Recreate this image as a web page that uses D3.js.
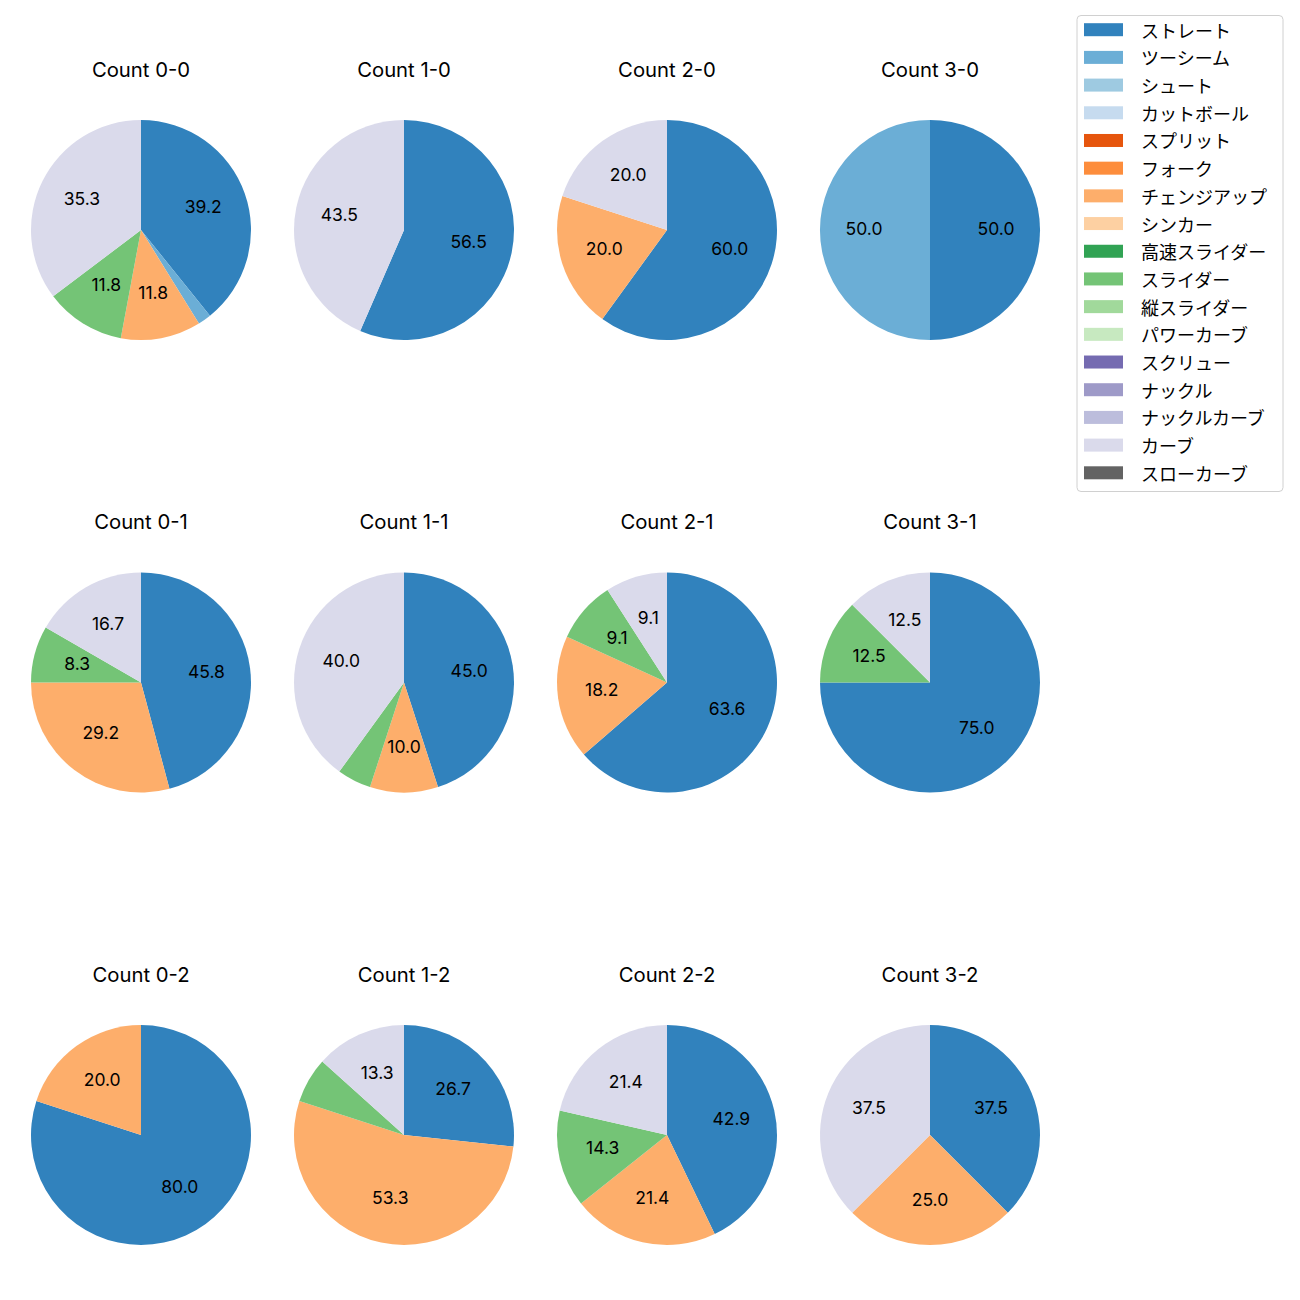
<!DOCTYPE html>
<html><head><meta charset="utf-8">
<script src="https://cdn.jsdelivr.net/npm/d3@7"></script>
<style>body{margin:0;background:#fff}svg{display:block}text{font-family:"Noto Sans CJK JP","Noto Sans",sans-serif}text.lat{font-family:Inter,"Noto Sans CJK JP",sans-serif}</style>
</head><body><svg id="c" width="1300" height="1300"></svg>
<script>
const pitchTypes = ["ストレート","ツーシーム","シュート","カットボール","スプリット","フォーク","チェンジアップ","シンカー","高速スライダー","スライダー","縦スライダー","パワーカーブ","スクリュー","ナックル","ナックルカーブ","カーブ","スローカーブ"];
const pitchColors = ["#3182bd","#6baed6","#9ecae1","#c6dbef","#e6550d","#fd8d3c","#fdae6b","#fdd0a2","#31a354","#74c476","#a1d99b","#c7e9c0","#756bb1","#9e9ac8","#bcbddc","#dadaeb","#636363"];
const countTitles = ["Count 0-0","Count 1-0","Count 2-0","Count 3-0","Count 0-1","Count 1-1","Count 2-1","Count 3-1","Count 0-2","Count 1-2","Count 2-2","Count 3-2"];
// pitch counts per panel for: ストレート, ツーシーム, チェンジアップ, スライダー, カーブ
const usedTypes = ["ストレート","ツーシーム","チェンジアップ","スライダー","カーブ"];
const panelCounts = [
  [20,1,6,6,18],
  [13,0,0,0,10],
  [3,0,1,0,1],
  [1,1,0,0,0],
  [11,0,7,2,4],
  [9,0,2,1,8],
  [7,0,2,1,1],
  [6,0,0,1,1],
  [4,0,1,0,0],
  [4,0,8,1,2],
  [6,0,3,2,3],
  [3,0,2,0,3]
];

const svg = d3.select("#c");
const color = d3.scaleOrdinal().domain(pitchTypes).range(pitchColors);
const colX = d3.scalePoint().domain([0,1,2,3]).range([141,930]);
const rowY = d3.scalePoint().domain([0,1,2]).range([230,1135]);
const R = 110;
const pie = d3.pie().sort(null).value(d=>d.v).startAngle(0).endAngle(2*Math.PI);
const arc = d3.arc().innerRadius(0).outerRadius(R);
const labelArc = d3.arc().innerRadius(R*0.6).outerRadius(R*0.6);

panelCounts.forEach((counts,i)=>{
  const cx = colX(i%4), cy = rowY(Math.floor(i/4));
  const g = svg.append("g").attr("transform",`translate(${cx},${cy})`);
  const data = usedTypes.map((t,j)=>({t, v:counts[j]})).filter(d=>d.v>0);
  const total = d3.sum(data,d=>d.v);
  const arcs = pie(data);
  g.selectAll("path").data(arcs).join("path").attr("d",arc).attr("fill",d=>color(d.data.t));
  g.selectAll("text.lbl").data(arcs.filter(d=>d.data.v/total*100>7.5)).join("text")
    .attr("class","lbl lat")
    .attr("transform",d=>{const c=labelArc.centroid(d);return `translate(${c[0]},${c[1]+4.6})`;})
    .attr("text-anchor","middle")
    .attr("font-size",17.5).attr("fill","#000")
    .text(d=>(d.data.v/total*100).toFixed(1));
  svg.append("text").attr("class","lat").attr("x",cx).attr("y",cy-153.3).attr("text-anchor","middle")
    .attr("font-size",20.3).attr("fill","#000").text(countTitles[i]);
});

// legend
const lg = svg.append("g");
lg.append("rect").attr("x",1077).attr("y",15.5).attr("width",206).attr("height",476).attr("rx",4)
  .attr("fill","#fff").attr("stroke","#d0d0d0").attr("stroke-width",1);
const ly = d3.scaleLinear().domain([0,16]).range([29.7,472.8]);
pitchTypes.forEach((t,i)=>{
  lg.append("rect").attr("x",1084).attr("y",ly(i)-6.5).attr("width",39).attr("height",13).attr("fill",color(t));
  lg.append("text").attr("x",1141).attr("y",ly(i)).attr("dominant-baseline","central")
    .attr("font-size",18).attr("fill","#000").text(t);
});
</script></body></html>
